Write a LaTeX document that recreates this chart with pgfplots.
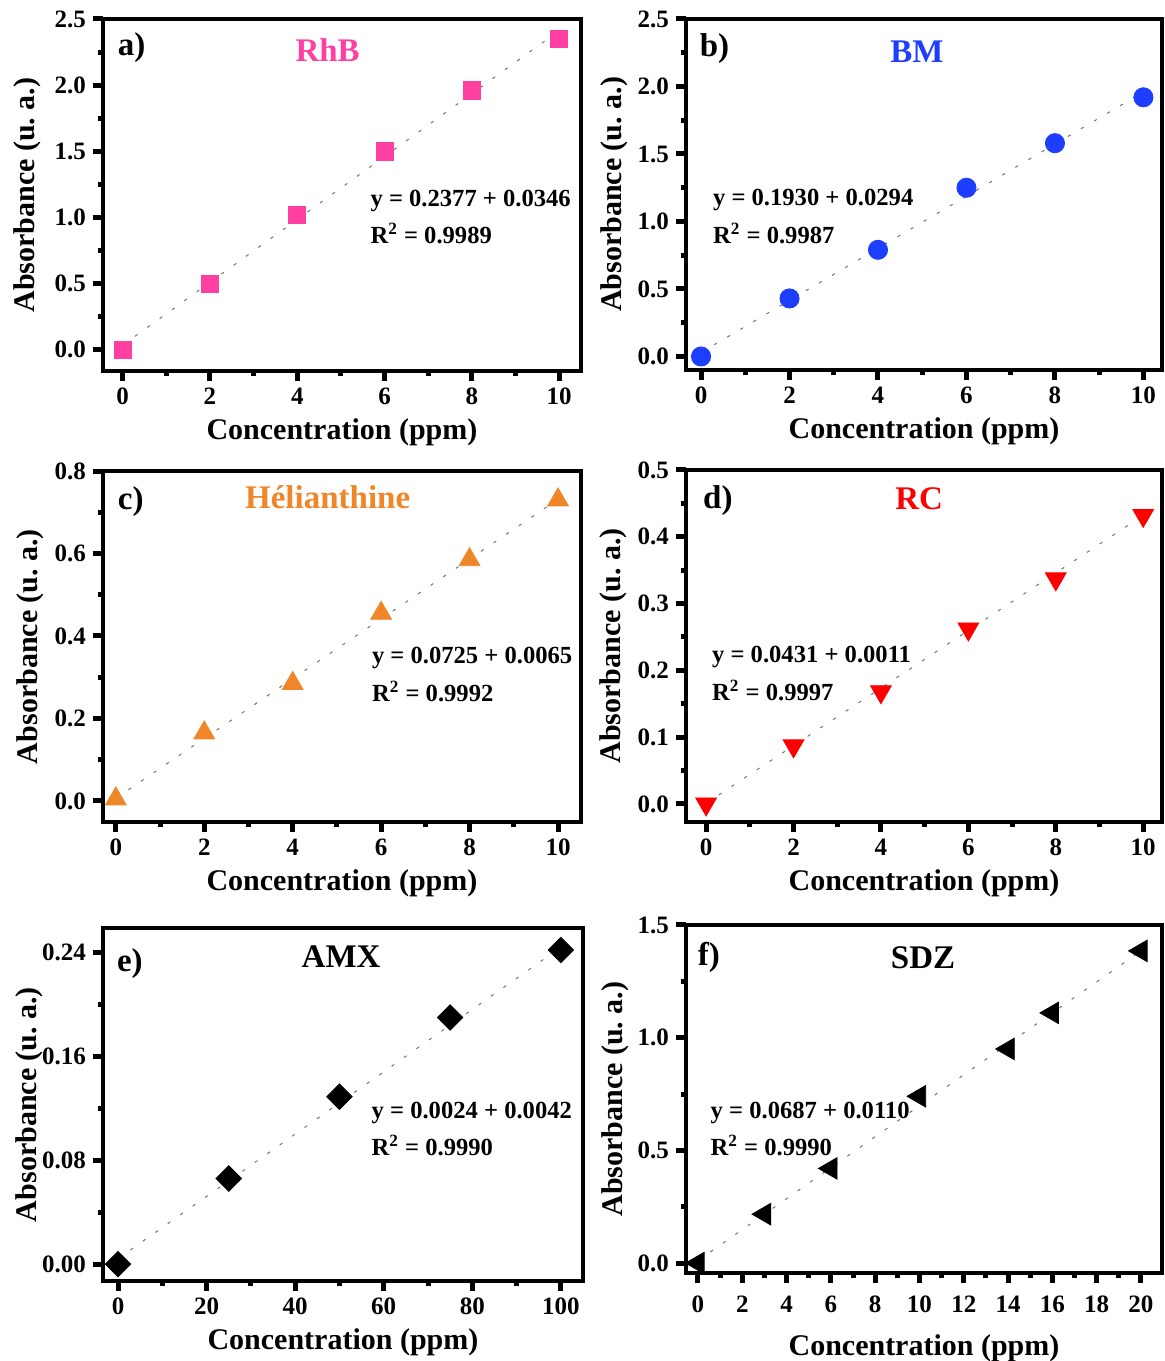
\documentclass[border=0pt]{standalone}
\usepackage{pgfplots}
\pgfplotsset{compat=1.18}
\usepackage{fontspec}
\setmainfont{Liberation Serif}
\definecolor{cpink}{RGB}{255,64,162}
\definecolor{cblue}{RGB}{30,62,255}
\definecolor{corange}{RGB}{240,134,42}
\definecolor{cred}{RGB}{255,0,0}
\tikzset{
  fitline/.style={black!55, line width=0.5pt, dash pattern=on 1.6pt off 6pt},
  tag/.style={font=\fontsize{16.5}{16.5}\selectfont\bfseries, anchor=center},
  eq/.style={font=\fontsize{12.3}{15}\selectfont\bfseries, anchor=west},
}
\pgfplotsset{
  panel/.style={
    scale only axis, width=239pt, height=176pt, anchor=south west,
    axis line style={line width=2.3pt},
    tick align=outside, xtick pos=bottom, ytick pos=left,
    major tick length=5pt, minor tick length=2.6pt,
    every tick/.style={black, line width=2.5pt},
    minor x tick num=1, minor y tick num=1,
    tick label style={font=\fontsize{12.5}{12.5}\selectfont\bfseries},
    /pgf/number format/assume math mode=true,
    label style={font=\fontsize{15}{15}\selectfont\bfseries},
    xlabel={Concentration (ppm)}, ylabel={Absorbance (u.\ a.)},
    ylabel style={at={(axis description cs:0,0.5)}, anchor=center, yshift=38pt},
    clip=false,
    yticklabel style={/pgf/number format/.cd, fixed, fixed zerofill, precision=1},
  },
}
\begin{document}
\begin{tikzpicture}
\path[use as bounding box] (0,0) rectangle (582pt,680.5pt);
% a) RhB
\begin{axis}[panel, at={(51.5pt,495pt)}, xmin=-0.45, xmax=10.5, ymin=-0.16, ymax=2.5,
  xtick={0,2,...,10}, ytick={0,0.5,...,2.5}]
\addplot[only marks, mark=square*, mark size=4.3pt, color=cpink] coordinates {(0,0) (2,0.50) (4,1.02) (6,1.50) (8,1.96) (10,2.35)};
\addplot[fitline] coordinates {(0,0.0346) (10,2.4116)};
\node[tag] at (axis description cs:0.06,0.92) {a)};
\node[tag, text=cpink] at (axis description cs:0.47,0.912) {RhB};
\node[eq] at (axis description cs:0.545,0.484) {y = 0.2377 + 0.0346};
\node[eq] at (axis description cs:0.545,0.39) {R\textsuperscript{2} = 0.9989};
\end{axis}
% b) BM
\begin{axis}[panel, at={(343pt,495.5pt)}, width=238pt, height=175.5pt, xmin=-0.34, xmax=10.42, ymin=-0.1, ymax=2.5,
  xtick={0,2,...,10}, ytick={0,0.5,...,2.5}, ylabel style={yshift=-2pt}]
\addplot[only marks, mark=*, mark size=4.8pt, color=cblue] coordinates {(0,0) (2,0.43) (4,0.79) (6,1.25) (8,1.58) (10,1.92)};
\addplot[fitline] coordinates {(0,0.0294) (10,1.9594)};
\node[tag] at (axis description cs:0.06,0.915) {b)};
\node[tag, text=cblue] at (axis description cs:0.485,0.906) {BM};
\node[eq] at (axis description cs:0.042,0.485) {y = 0.1930 + 0.0294};
\node[eq] at (axis description cs:0.042,0.388) {R\textsuperscript{2} = 0.9987};
\end{axis}
% c) Helianthine
\begin{axis}[panel, at={(51.5pt,269.5pt)}, height=175.5pt, xmin=-0.29, xmax=10.52, ymin=-0.051, ymax=0.8,
  xtick={0,2,...,10}, ytick={0,0.2,...,0.8}, ylabel style={yshift=-1.5pt}]
\addplot[only marks, mark=triangle*, mark size=6pt, color=corange] coordinates {(0,0.005) (2,0.165) (4,0.285) (6,0.455) (8,0.585) (10,0.73)};
\addplot[fitline] coordinates {(0,0.0065) (10,0.7315)};
\node[tag] at (axis description cs:0.058,0.912) {c)};
\node[tag, text=corange] at (axis description cs:0.47,0.926) {Hélianthine};
\node[eq] at (axis description cs:0.548,0.468) {y = 0.0725 + 0.0065};
\node[eq] at (axis description cs:0.548,0.371) {R\textsuperscript{2} = 0.9992};
\end{axis}
% d) RC
\begin{axis}[panel, at={(343pt,269.5pt)}, width=238pt, xmin=-0.46, xmax=10.43, ymin=-0.027, ymax=0.5,
  xtick={0,2,...,10}, ytick={0,0.1,...,0.5}, ylabel style={yshift=-1.5pt}]
\addplot[only marks, mark=triangle*, mark size=6pt, mark options={rotate=180}, color=cred] coordinates {(0,0) (2,0.087) (4,0.168) (6,0.262) (8,0.337) (10,0.432)};
\addplot[fitline] coordinates {(0,0.0011) (10,0.4321)};
\node[tag] at (axis description cs:0.067,0.912) {d)};
\node[tag, text=cred] at (axis description cs:0.49,0.918) {RC};
\node[eq] at (axis description cs:0.04,0.47) {y = 0.0431 + 0.0011};
\node[eq] at (axis description cs:0.04,0.373) {R\textsuperscript{2} = 0.9997};
\end{axis}
% e) AMX
\begin{axis}[panel, at={(51.5pt,40pt)}, width=240pt, height=176.5pt, xmin=-3.4, xmax=105, ymin=-0.013, ymax=0.259,
  xtick={0,20,...,100}, ytick={0,0.08,0.16,0.24}, ylabel style={yshift=-1pt},
  yticklabel style={/pgf/number format/.cd, fixed, fixed zerofill, precision=2}]
\addplot[only marks, mark=square*, mark size=4.5pt, mark options={rotate=45}, color=black] coordinates {(0,0) (25,0.066) (50,0.129) (75,0.19) (100,0.242)};
\addplot[fitline] coordinates {(0,0.0042) (100,0.2442)};
\node[tag] at (axis description cs:0.056,0.90) {e)};
\node[tag] at (axis description cs:0.496,0.918) {AMX};
\node[eq] at (axis description cs:0.545,0.477) {y = 0.0024 + 0.0042};
\node[eq] at (axis description cs:0.545,0.383) {R\textsuperscript{2} = 0.9990};
\end{axis}
% f) SDZ
\begin{axis}[panel, at={(343pt,44pt)}, width=238pt, height=174pt, xmin=-0.54, xmax=20.95, ymin=-0.044, ymax=1.5,
  xtick={0,2,...,20}, ytick={0,0.5,...,1.5}, ylabel style={yshift=-2.5pt},
  xticklabel style={yshift=-3pt}, xlabel style={yshift=-4pt}]
\addplot[only marks, mark=triangle*, mark size=6.2pt, mark options={rotate=90}, color=black] coordinates {(0,0) (3,0.217) (6,0.42) (10,0.74) (14,0.95) (16,1.11) (20,1.385)};
\addplot[fitline] coordinates {(0,0.0110) (20,1.385)};
\node[tag] at (axis description cs:0.048,0.908) {f)};
\node[tag] at (axis description cs:0.498,0.905) {SDZ};
\node[eq] at (axis description cs:0.037,0.461) {y = 0.0687 + 0.0110};
\node[eq] at (axis description cs:0.037,0.366) {R\textsuperscript{2} = 0.9990};
\end{axis}
\end{tikzpicture}
\end{document}
